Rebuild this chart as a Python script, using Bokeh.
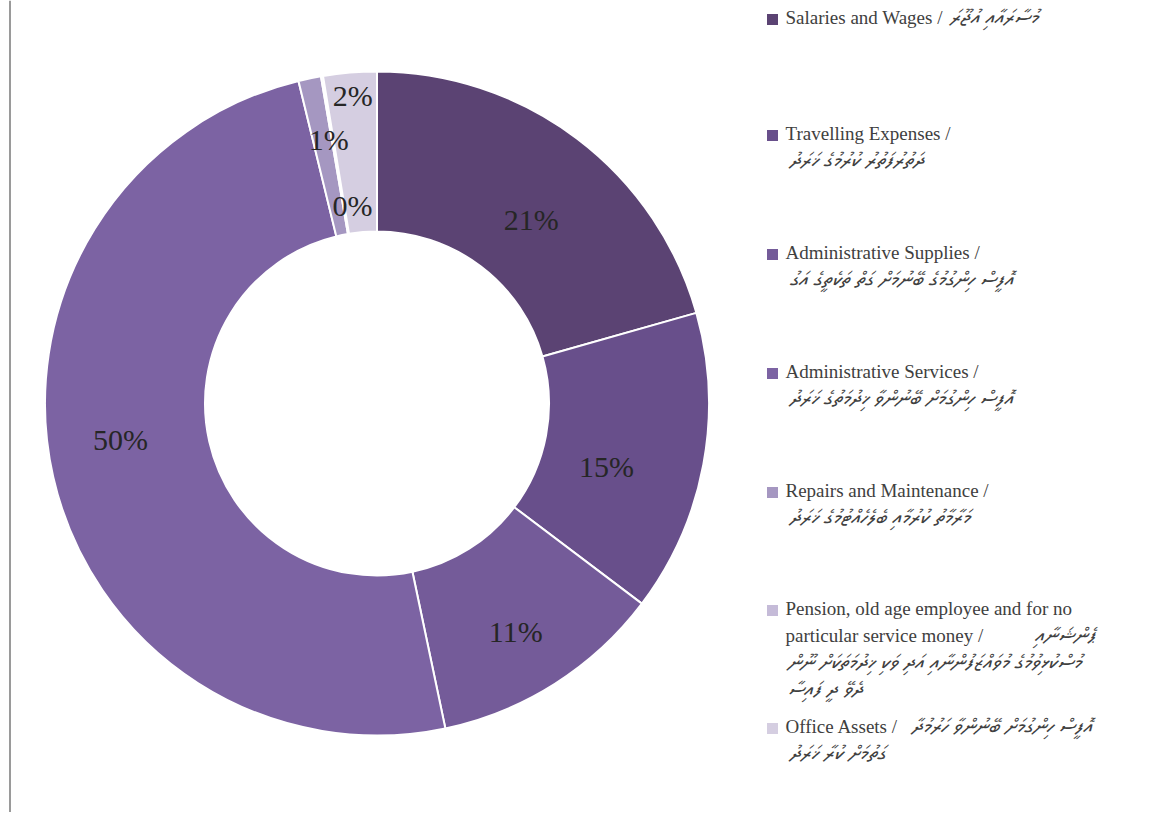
import numpy as np
from bokeh.plotting import figure
from bokeh.models import Range1d, Span, ColumnDataSource
from bokeh.embed import file_html
from bokeh.resources import INLINE
from bokeh.core.properties import value

# ---------------- data ----------------
categories_en = [
    "Salaries and Wages",
    "Travelling Expenses",
    "Administrative Supplies",
    "Administrative Services",
    "Repairs and Maintenance",
    "Pension, old age employee and for no particular service money",
    "Office Assets",
]
categories_dv = [
    "މުސާރައާއި އުޖޫރަ",
    "ދަތުރުފަތުރު ކުރުމުގެ ޚަރަދު",
    "އޮފީސް ހިންގުމުގެ ބޭނުމަށް ގަތް ތަކެތީގެ އަގު",
    "އޮފީސް ހިންގުމަށް ބޭނުންވާ ޚިދުމަތުގެ ޚަރަދު",
    "މަރާމާތު ކުރުމާއި ބެލެހެއްޓުމުގެ ޚަރަދު",
    "ޕެންޝަނާއި މުސްކުޅިވުމުގެ މުވައްޒަފުންނާއި އަދި ވަކި ޚިދުމަތަކަށް ނޫން ދެވޭ ދީ ފައިސާ",
    "އޮފީސް ހިންގުމަށް ބޭނުންވާ ހަރުމުދާ ގަތުމަށް ކުރާ ޚަރަދު",
]
shares = [20.6, 14.7, 11.4, 49.5, 1.1, 0.1, 2.6]
share_labels = ["21%", "15%", "11%", "50%", "1%", "0%", "2%"]

# ---------------- style / layout ----------------
colors = ["#5b4373", "#684f8b", "#745b99", "#7c63a3", "#a597c1", "#c5bbd8", "#d5cee1"]
W, H = 1137, 812
OFF = 1


def sx(x):
    return x - OFF


def sy(y):
    return H + OFF - y


CX, CY = sx(377.5), sy(404)
R_IN, R_OUT = 172, 332
label_r = [240, 238, 267, 259, 268, 200, 309]
label_dang = [2.9, 4.8, 1.1, 4.8, 1.3, 2.5, 0.2]   # degrees, clockwise nudge

p = figure(width=W, height=H, x_range=Range1d(0, W), y_range=Range1d(0, H),
           output_backend="svg", toolbar_location=None, min_border=0)
p.axis.visible = False
p.grid.visible = False
p.outline_line_color = None
p.background_fill_color = "white"
p.border_fill_color = "white"

frac = np.array(shares) / np.sum(shares)
cum_end = np.cumsum(frac) * 2 * np.pi
cum_start = cum_end - frac * 2 * np.pi
src = ColumnDataSource(dict(
    start=np.pi / 2 - cum_end,
    end=np.pi / 2 - cum_start,
    color=colors,
))
p.annular_wedge(x=CX, y=CY, inner_radius=R_IN, outer_radius=R_OUT,
                start_angle="start", end_angle="end", direction="anticlock",
                fill_color="color", line_color="white", line_width=2, source=src)

mid = (cum_start + cum_end) / 2 + np.radians(label_dang)
lx = CX + np.array(label_r) * np.sin(mid)
ly = CY + np.array(label_r) * np.cos(mid)
p.text(x=lx, y=ly, text=share_labels, text_align="center", text_baseline="middle",
       text_font=value("Liberation Serif"), text_font_size="30px", text_color="#262626")

# left border line
p.add_layout(Span(location=sx(10.5), dimension="height", line_color="#9a9a9a", line_width=2))

# ---------------- legend ----------------
EN_FONT = value("Liberation Serif")
DV_FONT = value("'Noto Sans Thaana', 'MV Boli', 'FreeSerif', 'DejaVu Sans', sans-serif")
first_line_y = [18, 134, 253, 372, 491, 609, 727]
LINE = 27
en_lines = [
    ["Salaries and Wages /"],
    ["Travelling Expenses /"],
    ["Administrative Supplies /"],
    ["Administrative Services /"],
    ["Repairs and Maintenance /"],
    ["Pension, old age employee and for no", "particular service money /"],
    ["Office Assets /"],
]
dv_words = [w.split(" ") for w in categories_dv]
# (line offset, x start, words slice) for Dhivehi pieces
dv_layout = [
    [(0, 950, 0, 2)],
    [(1, 790, 0, 3)],
    [(1, 790, 0, 6)],
    [(1, 790, 0, 5)],
    [(1, 790, 0, 4)],
    [(1, 1035, 0, 1), (2, 788, 1, 7), (3, 788, 7, 10)],
    [(0, 912, 0, 4), (1, 790, 4, 7)],
]

sq_x, sq_y = [], []
ex, ey, et = [], [], []
dx_, dy_, dt = [], [], []
for i in range(len(categories_en)):
    y0 = first_line_y[i]
    sq_x.append(sx(773))
    sq_y.append(sy(y0 + 2))
    for k, t in enumerate(en_lines[i]):
        ex.append(sx(786))
        ey.append(sy(y0 + k * LINE))
        et.append(t)
    for (ln, x0, a, b) in dv_layout[i]:
        dx_.append(sx(x0))
        dy_.append(sy(y0 + ln * LINE))
        dt.append(" ".join(dv_words[i][a:b]))

p.rect(x=sq_x, y=sq_y, width=11, height=11, fill_color=colors, line_color=None)
p.text(x=ex, y=ey, text=et, text_align="left", text_baseline="middle",
       text_font=EN_FONT, text_font_size="19px", text_color="#404040")
p.text(x=dx_, y=dy_, text=dt, text_align="left", text_baseline="middle",
       text_font=DV_FONT, text_font_size="21px", text_font_style="italic",
       text_color="#404040")

open("out.html", "w").write(file_html(p, INLINE))
